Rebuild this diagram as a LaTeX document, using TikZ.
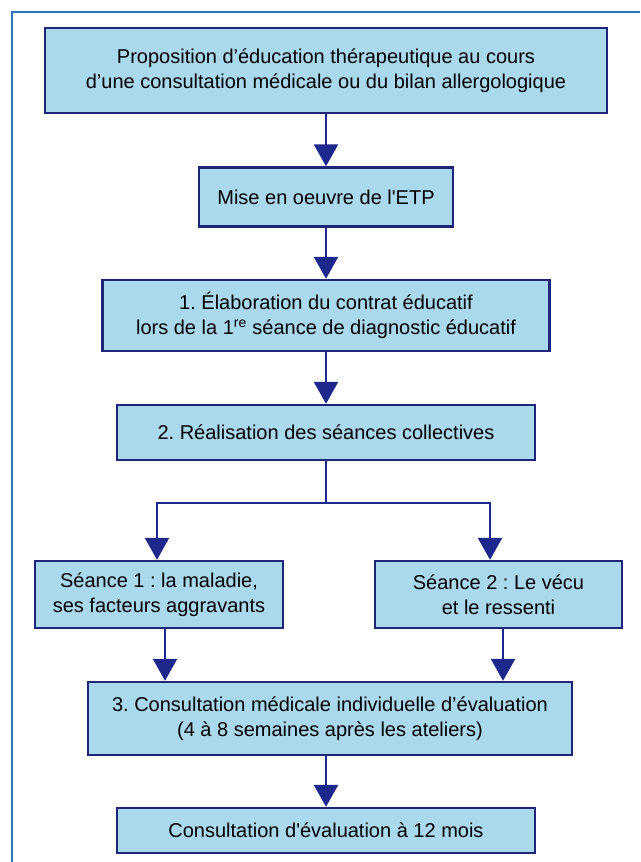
\documentclass[tikz,border=0pt]{standalone}
\usepackage{fontspec}
\setmainfont{Liberation Sans}
\usetikzlibrary{arrows.meta}
\definecolor{boxfill}{RGB}{170,216,236}
\definecolor{boxline}{RGB}{30,38,120}
\definecolor{arrowcol}{RGB}{30,40,140}
\definecolor{framecol}{RGB}{45,115,185}
\frenchspacing
\begin{document}
\begin{tikzpicture}[x=1pt,y=-1pt,
  flowbox/.style={draw=boxline, fill=boxfill, line width=2.4pt, rectangle,
    align=center, inner sep=0pt, font=\fontsize{20}{25}\selectfont},
  flowarrow/.style={draw=arrowcol, line width=2.6pt,
    -{Triangle[width=24pt,length=22pt]}},
  flowline/.style={draw=arrowcol, line width=2.6pt}]
\useasboundingbox (0,0) rectangle (640,862);
\draw[framecol, line width=2.2pt] (640,12) -- (12,12) -- (12,862);

\node[flowbox, minimum width=562pt, minimum height=85pt] (b1) at (326,70.5)
  {Proposition d’éducation thérapeutique au cours\\d’une consultation médicale ou du bilan allergologique};
\node[flowbox, minimum width=254pt, minimum height=59pt] (b2) at (326,197)
  {Mise en oeuvre de l\textquotesingle ETP};
\node[flowbox, minimum width=447pt, minimum height=71pt] (b3) at (326,315.5)
  {1. Élaboration du contrat éducatif\\lors de la 1\textsuperscript{re} séance de diagnostic éducatif};
\node[flowbox, minimum width=418pt, minimum height=55pt] (b4) at (326,432.5)
  {2. Réalisation des séances collectives};
\node[flowbox, minimum width=248pt, minimum height=67pt] (s1) at (159,594.5)
  {Séance 1 : la maladie,\\ses facteurs aggravants};
\node[flowbox, minimum width=247pt, minimum height=67pt] (s2) at (498.5,594.5)
  {Séance 2 : Le vécu\\et le ressenti};
\node[flowbox, minimum width=484pt, minimum height=73pt] (b6) at (330,718.5)
  {3. Consultation médicale individuelle d’évaluation\\(4 à 8 semaines après les ateliers)};
\node[flowbox, minimum width=418pt, minimum height=45pt] (b7) at (326,830.5)
  {Consultation d\textquotesingle évaluation à 12 mois};

\coordinate (split) at (326,503);
\coordinate (lt) at (157,503);
\coordinate (rt) at (490,503);

\draw[flowarrow] (b1.south) -- (b2.north);
\draw[flowarrow] (b2.south) -- (b3.north);
\draw[flowarrow] (b3.south) -- (b4.north);
\draw[flowline] (b4.south) -- (split);
\draw[flowline, line cap=rect] (lt) -- (rt);
\draw[flowarrow] (lt) -- (lt |- s1.north);
\draw[flowarrow] (rt) -- (rt |- s2.north);
\draw[flowarrow] (s1.south -| 165,0) -- (165,0 |- b6.north);
\draw[flowarrow] (s2.south -| 503,0) -- (503,0 |- b6.north);
\draw[flowarrow] (b6.south -| b7.north) -- (b7.north);
\end{tikzpicture}
\end{document}
